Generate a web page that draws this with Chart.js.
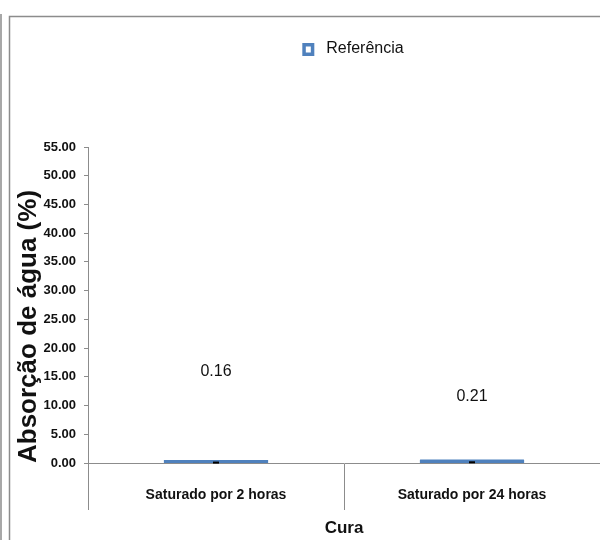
<!DOCTYPE html>
<html>
<head>
<meta charset="utf-8">
<script src="https://cdn.jsdelivr.net/npm/chart.js@4.4.0/dist/chart.umd.min.js"></script>
<style>
  html, body { margin: 0; padding: 0; background: #fff; }
</style>
</head>
<body>
<canvas id="myChart" width="600" height="540"></canvas>
<script>
// chart data
let categories = ["Saturado por 2 horas", "Saturado por 24 horas"];
let seriesName = "Referência";
let values = [0.16, 0.21];
let yMin = 0;
let yMax = 55;
let yStep = 5;
// where the value labels float above the bars (px)
let labelOffsets = [90, 65];

let barColor = "#4F81BD";
let axisGray = "#8c8c8c";
let sans = "'Liberation Sans', Arial, sans-serif";

// gray frame around the chart like the office export
let framePlugin = {
  id: "frame",
  beforeDraw(chart) {
    let c = chart.ctx;
    c.save();
    c.fillStyle = "#fff";
    c.fillRect(0, 0, chart.width, chart.height);
    c.strokeStyle = "#8c8c8c";
    c.lineWidth = 1.5;
    c.beginPath();
    c.moveTo(1, 14);
    c.lineTo(1, chart.height);
    c.moveTo(9.5, chart.height);
    c.lineTo(9.5, 16.5);
    c.lineTo(chart.width, 16.5);
    c.stroke();
    c.restore();
  },
};

// value labels + tiny error dash on each bar
let barLabels = {
  id: "barLabels",
  afterDatasetsDraw(chart) {
    let c = chart.ctx;
    let meta = chart.getDatasetMeta(0);
    c.save();
    meta.data.forEach((bar, i) => {
      c.strokeStyle = "#000";
      c.lineWidth = 2;
      c.beginPath();
      c.moveTo(bar.x - 3, bar.y + 0.5);
      c.lineTo(bar.x + 3, bar.y + 0.5);
      c.stroke();

      c.fillStyle = "#111";
      c.font = "16px " + sans;
      c.textAlign = "center";
      c.textBaseline = "middle";
      c.fillText(values[i].toFixed(2), bar.x, bar.y - labelOffsets[i]);
    });
    c.restore();
  },
};

// legend drawn above the plot, centered over the plot area
let topLegend = {
  id: "topLegend",
  afterDraw(chart) {
    let c = chart.ctx;
    let area = chart.chartArea;
    c.save();
    c.font = "16px " + sans;
    let text = chart.data.datasets[0].label;
    let tw = c.measureText(text).width;
    let total = 12 + 12 + tw;
    let x0 = (area.left + area.right) / 2 + 9 - total / 2;
    let yc = 49;
    c.fillStyle = barColor;
    c.fillRect(x0, yc - 6, 12, 13);
    c.fillStyle = "#fff";
    c.fillRect(x0 + 3.5, yc - 2.5, 5, 6);
    c.fillStyle = "#111";
    c.textAlign = "left";
    c.textBaseline = "middle";
    c.fillText(text, x0 + 24, yc);
    c.restore();
  },
};

let ctx = document.getElementById("myChart").getContext("2d");

let myChart = new Chart(ctx, {
  type: "bar",
  data: {
    labels: categories,
    datasets: [
      {
        label: seriesName,
        data: values,
        backgroundColor: barColor,
        borderWidth: 0,
        borderRadius: 2,
        inflateAmount: 2.2,
        barPercentage: 0.39,
        categoryPercentage: 1,
      },
    ],
  },
  options: {
    responsive: false,
    animation: false,
    layout: { padding: { top: 147, right: 0, bottom: 0, left: 0 } },
    plugins: {
      legend: { display: false },
      tooltip: { enabled: false },
    },
    scales: {
      x: {
        afterFit(scale) {
          scale.height = 77;
        },
        grid: {
          offset: true,
          drawOnChartArea: false,
          tickLength: 47,
          color: axisGray,
        },
        border: { display: true, color: axisGray, width: 1 },
        ticks: {
          padding: -23,
          color: "#111",
          font: { family: sans, size: 14, weight: "bold" },
        },
        title: {
          display: true,
          text: "Cura",
          color: "#111",
          font: { family: sans, size: 17, weight: "bold" },
          padding: { top: 0, bottom: 1 },
        },
      },
      y: {
        min: yMin,
        max: yMax,
        afterFit(scale) {
          scale.width = 88;
        },
        grid: {
          drawOnChartArea: false,
          tickLength: 4,
          color: axisGray,
        },
        border: { display: true, color: axisGray, width: 1 },
        ticks: {
          stepSize: yStep,
          padding: 8,
          color: "#111",
          font: { family: sans, size: 13, weight: "bold" },
          callback: (v) => Number(v).toFixed(2),
        },
        title: {
          display: true,
          text: "Absorção de água (%)",
          align: "start",
          color: "#111",
          font: { family: sans, size: 26, weight: "bold" },
          padding: { top: 13, bottom: 0 },
        },
      },
    },
  },
  plugins: [framePlugin, barLabels, topLegend],
});
</script>
</body>
</html>
